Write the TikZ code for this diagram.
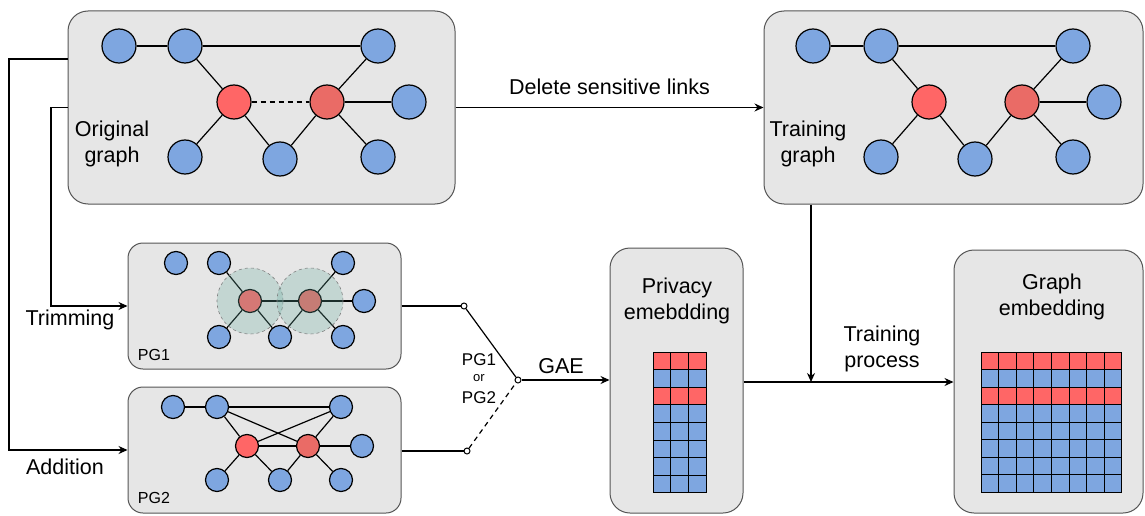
\documentclass[tikz,border=0pt]{standalone}
\usepackage{fontspec}
\setmainfont{Liberation Sans}
\usetikzlibrary{arrows.meta,calc}
\definecolor{nblue}{HTML}{7EA6E0}
\definecolor{redA}{HTML}{FF6666}
\definecolor{redB}{HTML}{EA6B66}
\definecolor{boxfill}{HTML}{E6E6E6}
\definecolor{boxdraw}{HTML}{555555}
\definecolor{halo}{HTML}{67AB9F}
\begin{document}
\begin{tikzpicture}[x=1pt,y=-1pt,
  box/.style={draw=boxdraw, fill=boxfill, rounded corners=20pt, line width=1pt, inner sep=0pt},
  pgbox/.style={box, rounded corners=15pt},
  bn/.style={circle, draw=black, fill=nblue, minimum size=34pt, inner sep=0pt, line width=1.2pt},
  rn/.style={bn, fill=redA},
  rnb/.style={bn, fill=redB},
  sbn/.style={bn, minimum size=23pt},
  srn/.style={rn, minimum size=23pt},
  srnb/.style={rnb, minimum size=23pt},
  ed/.style={line width=1.2pt},
  conn/.style={line width=1.2pt},
  arr/.style={conn, -{Stealth[length=9pt,width=8pt]}},
  lbl/.style={font=\fontsize{21.5}{26}\selectfont, align=center, inner sep=0pt},
  slbl/.style={font=\fontsize{16}{19}\selectfont, inner sep=0pt},
  sw/.style={circle, draw=black, fill=white, minimum size=6pt, inner sep=0pt, line width=1pt},
  cellr/.style={draw=black, line width=0.7pt, fill=redA},
  cellb/.style={draw=black, line width=0.7pt, fill=nblue},
  halo/.style={circle, fill=halo, fill opacity=0.27, draw=gray, dashed, line width=0.6pt, minimum size=66pt, inner sep=0pt}
]
\useasboundingbox (0,0) rectangle (1145,516);

% ---------- Original graph ----------
\node[box, minimum width=387pt, minimum height=193pt] (og) at (261.5,107.5) {};
\node[bn] (o1) at (119,46) {};
\node[bn] (o2) at (185,46) {};
\node[bn] (o3) at (378,46) {};
\node[rn] (or1) at (234,102) {};
\node[rnb] (or2) at (327,102) {};
\node[bn] (o4) at (409,102) {};
\node[bn] (o5) at (185,157) {};
\node[bn] (o6) at (280,159) {};
\node[bn] (o7) at (378,157) {};
\node[lbl] (ogl) at (112,144) {Original\\graph};

% ---------- Training graph ----------
\node[box, minimum width=379pt, minimum height=193pt] (tg) at (953.5,107.5) {};
\node[bn] (t1) at (813,46) {};
\node[bn] (t2) at (881,46) {};
\node[bn] (t3) at (1073,46) {};
\node[rn] (tr1) at (929,102) {};
\node[rnb] (tr2) at (1022,102) {};
\node[bn] (t4) at (1104,102) {};
\node[bn] (t5) at (881,157) {};
\node[bn] (t6) at (975,159) {};
\node[bn] (t7) at (1073,157) {};
\node[lbl] (tgl) at (808,144) {Training\\graph};

% ---------- PG1 ----------
\node[pgbox, minimum width=273pt, minimum height=126pt] (pg1) at (264.5,306) {};
\node[sbn] (a0) at (176,263) {};
\node[sbn] (a1) at (219,263) {};
\node[sbn] (a2) at (343,263) {};
\node[srn] (ar1) at (250,301) {};
\node[srnb] (ar2) at (310,301) {};
\node[sbn] (a3) at (364,301) {};
\node[sbn] (a4) at (219,337) {};
\node[sbn] (a5) at (280,337) {};
\node[sbn] (a6) at (343,337) {};
\node[slbl] (pg1l) at (154,355) {PG1};

% ---------- PG2 ----------
\node[pgbox, minimum width=273pt, minimum height=126pt] (pg2) at (264.5,450) {};
\node[sbn] (b0) at (173,407) {};
\node[sbn] (b1) at (217,407) {};
\node[sbn] (b2) at (341,407) {};
\node[srn] (br1) at (247,446) {};
\node[srnb] (br2) at (308,446) {};
\node[sbn] (b3) at (362,446) {};
\node[sbn] (b4) at (217,480) {};
\node[sbn] (b5) at (280,480) {};
\node[sbn] (b6) at (341,480) {};
\node[slbl] (pg2l) at (154,498) {PG2};

% ---------- edges ----------
\draw[ed] (o1) -- (o2); \draw[ed] (o2) -- (o3); \draw[ed] (o2) -- (or1);
\draw[ed] (or1) -- (o5); \draw[ed] (or1) -- (o6); \draw[ed, dash pattern=on 5pt off 4pt] (or1) -- (or2);
\draw[ed] (or2) -- (o6); \draw[ed] (or2) -- (o3); \draw[ed] (or2) -- (o4); \draw[ed] (or2) -- (o7);

\draw[ed] (t1) -- (t2); \draw[ed] (t2) -- (t3); \draw[ed] (t2) -- (tr1);
\draw[ed] (tr1) -- (t5); \draw[ed] (tr1) -- (t6);
\draw[ed] (tr2) -- (t6); \draw[ed] (tr2) -- (t3); \draw[ed] (tr2) -- (t4); \draw[ed] (tr2) -- (t7);

\draw[ed] (a1) -- (ar1); \draw[ed] (ar1) -- (a4); \draw[ed] (ar1) -- (a5); \draw[ed] (ar1) -- (ar2);
\draw[ed] (ar2) -- (a5); \draw[ed] (ar2) -- (a2); \draw[ed] (ar2) -- (a3); \draw[ed] (ar2) -- (a6);
\node[halo] (h1) at (ar1) {};
\node[halo] (h2) at (ar2) {};

\draw[ed] (b0) -- (b1); \draw[ed] (b1) -- (b2); \draw[ed] (b1) -- (br2); \draw[ed] (b2) -- (br1);
\draw[ed] (b1) -- (br1); \draw[ed] (br1) -- (br2); \draw[ed] (br2) -- (b2); \draw[ed] (br2) -- (b3);
\draw[ed] (br1) -- (b4); \draw[ed] (br1) -- (b5); \draw[ed] (br2) -- (b5); \draw[ed] (br2) -- (b6);

% ---------- Privacy embedding ----------
\node[box, minimum width=133pt, minimum height=265pt] (pe) at (676.5,380.5) {};
\node[lbl] (pel) at (677,301) {Privacy\\emebdding};
\foreach \r in {0,...,7}{
  \foreach \c in {0,1,2}{
    \pgfmathsetmacro{\xa}{653+\c*17.67}
    \pgfmathsetmacro{\ya}{352+\r*17.6}
    \ifnum\r=0 \def\cs{cellr}\else\ifnum\r=2 \def\cs{cellr}\else\def\cs{cellb}\fi\fi
    \draw[\cs] (\xa,\ya) rectangle ++(17.67,17.6);
  }
}

% ---------- Graph embedding ----------
\node[box, minimum width=189pt, minimum height=263pt] (ge) at (1048.5,381.5) {};
\node[lbl] (gel) at (1052,297) {Graph\\embedding};
\foreach \r in {0,...,7}{
  \foreach \c in {0,...,7}{
    \pgfmathsetmacro{\xa}{981+\c*17.6}
    \pgfmathsetmacro{\ya}{352+\r*17.5}
    \ifnum\r=0 \def\cs{cellr}\else\ifnum\r=2 \def\cs{cellr}\else\def\cs{cellb}\fi\fi
    \draw[\cs] (\xa,\ya) rectangle ++(17.6,17.5);
  }
}

% ---------- connectors ----------
\draw[arr] (og.east) -- node[lbl, above=12pt] (del) {Delete sensitive links} (tg.west);

\coordinate (la) at (9,59);
\coordinate (lb) at (51,107.5);
\draw[arr] (og.west |- la) -- (la) |- (pg2.west);
\draw[arr] (og.west) -- (lb) |- (pg1.west);
\node[lbl] (trim) at (70,320) {Trimming};
\node[lbl] (add) at (65,467) {Addition};

\node[sw] (s1) at (464,306) {};
\node[sw] (s2) at (467,451) {};
\node[sw] (s0) at (518,380) {};
\draw[conn] (pg1.east) -- (s1);
\draw[conn] (pg2.east |- s2) -- (s2);
\draw[conn] (s1) -- (s0);
\draw[conn, dash pattern=on 5pt off 4pt] (s2) -- (s0);
\draw[arr] (s0) -- (pe.west |- s0);
\node[lbl] (gae) at (561,366) {GAE};
\node[slbl, font=\fontsize{17}{20}\selectfont] (sp1) at (479,360) {PG1};
\node[slbl, font=\fontsize{13}{15}\selectfont] (sor) at (479,378) {or};
\node[slbl, font=\fontsize{17}{20}\selectfont] (sp2) at (479,398) {PG2};

\coordinate (tp) at (811,382);
\draw[arr] (pe.east |- tp) -- (ge.west |- tp);
\draw[arr] (tg.south -| tp) -- (tp);
\node[lbl] (tpl) at (882,349) {Training\\process};
\end{tikzpicture}
\end{document}
